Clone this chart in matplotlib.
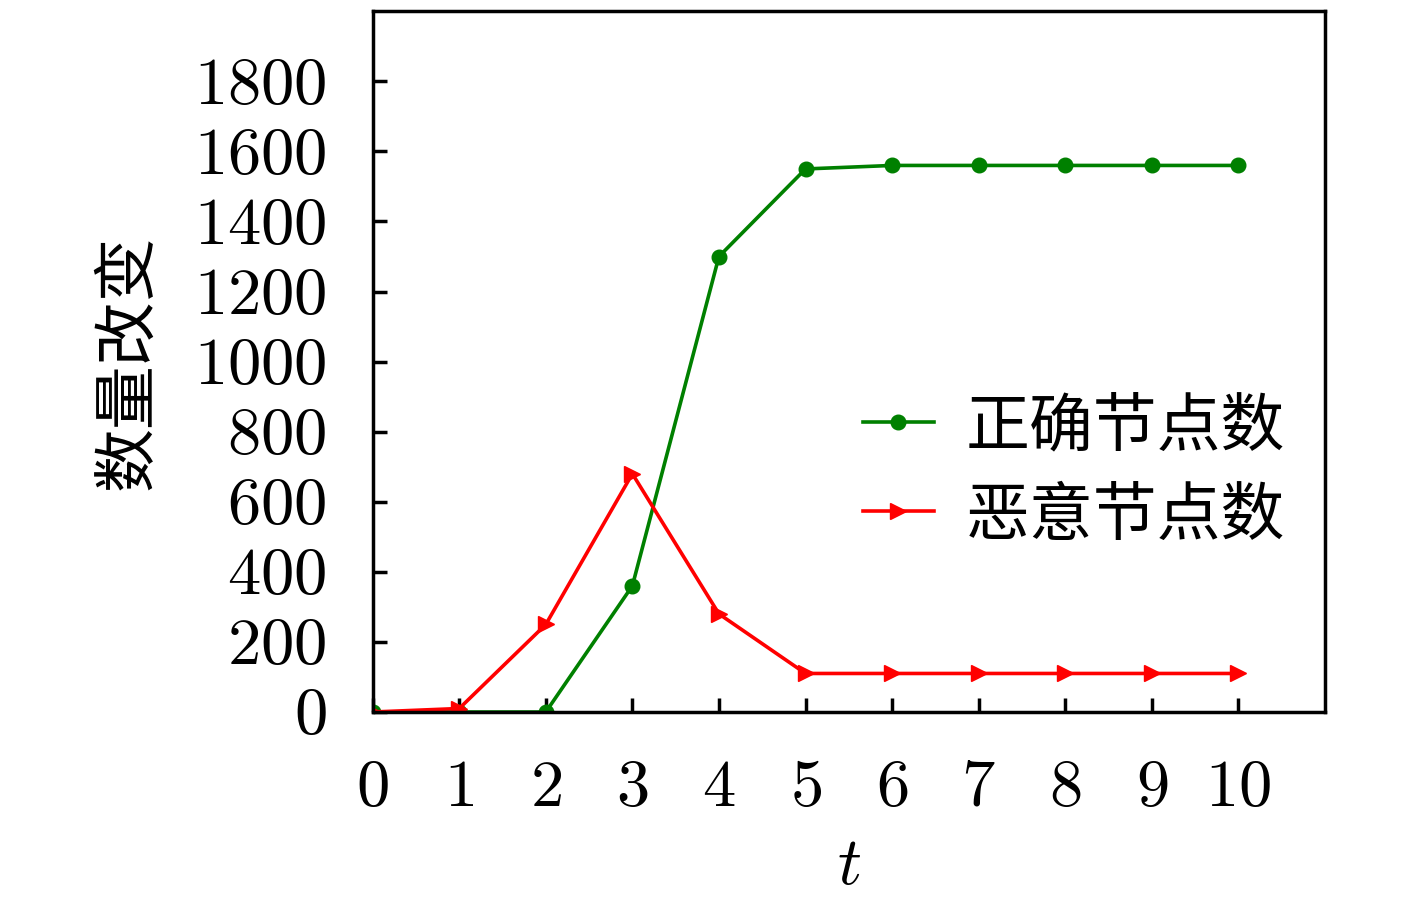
import matplotlib
matplotlib.use("Agg")
import matplotlib.pyplot as plt
import matplotlib.transforms as mtransforms

plt.rcParams['font.family'] = ['Noto Sans CJK SC', 'DejaVu Sans']
plt.rcParams['mathtext.fontset'] = 'cm'

t = [0, 1, 2, 3, 4, 5, 6, 7, 8, 9, 10]
correct = [0, 0, 0, 360, 1300, 1550, 1560, 1560, 1560, 1560, 1560]
malicious = [0, 10, 250, 680, 280, 110, 110, 110, 110, 110, 110]
yticks = [0, 200, 400, 600, 800, 1000, 1200, 1400, 1600, 1800]

fig = plt.figure(figsize=(14.17, 9.03), dpi=100)
ax = fig.add_axes([0.263, 0.2104, 0.672, 0.776])

ax.plot(t, correct, color="green", marker="o", markersize=10.5, linewidth=2.6, label="正确节点数")
ax.plot(t, malicious, color="red", marker=">", markersize=11, linewidth=2.6, label="恶意节点数")

ax.set_xlim(0, 11)
ax.set_ylim(0, 2000)
ax.set_xticks(t)
ax.set_xticklabels(["$%d$" % v for v in t], fontsize=48)
ax.set_yticks(yticks)
ax.set_yticklabels(["$%d$" % v for v in yticks], fontsize=48)
ax.tick_params(direction="in", length=10, width=2.5, top=False, right=False)
ax.tick_params(axis="x", pad=29)
ax.tick_params(axis="y", pad=33)
for s in ax.spines.values():
    s.set_linewidth(2.5)

# nudge y tick labels up so digits are centred on the ticks
shift = mtransforms.ScaledTranslation(0, 5 / 100, fig.dpi_scale_trans)
for lab in ax.get_yticklabels():
    lab.set_transform(lab.get_transform() + shift)

ax.set_xlabel("$t$", fontsize=48, labelpad=8)
ax.set_ylabel("数量改变", fontsize=46, labelpad=24)

ax.legend(loc="center right", bbox_to_anchor=(0.958, 0.344), frameon=False, fontsize=46,
          handlelength=1.1, handletextpad=0.5, labelspacing=0.35,
          borderaxespad=0, borderpad=0)

fig.savefig("out.png", dpi=100)
